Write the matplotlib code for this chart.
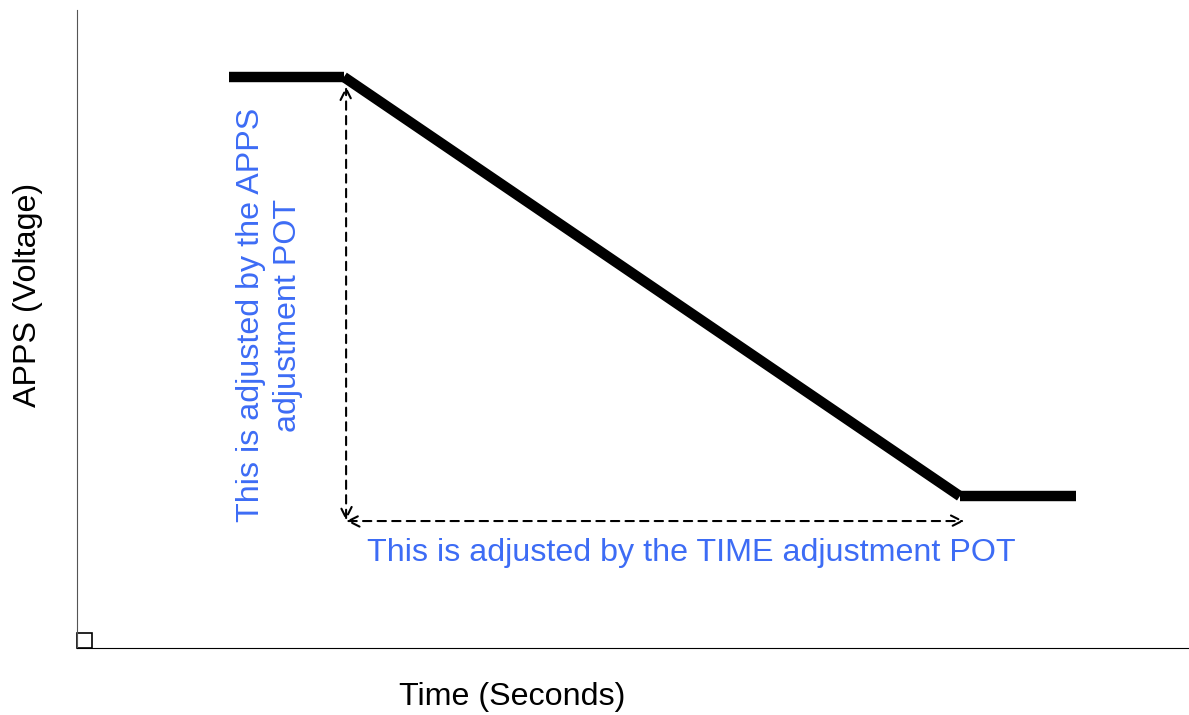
import matplotlib
matplotlib.use("Agg")
import matplotlib.pyplot as plt
from matplotlib.patches import Rectangle

plt.rcParams['font.family'] = ['Liberation Sans', 'DejaVu Sans']

# data (time units, voltage units)
times = [1.37, 2.4, 7.94, 8.98]
volts = [8.95, 8.95, 2.38, 2.38]
apps_arrow_x = 2.42
apps_arrow_y = [2.0, 8.8]
time_arrow_y = 1.99
time_arrow_x = [2.42, 7.98]

BLUE = '#3d6cf5'

fig = plt.figure(figsize=(11.89, 7.15), dpi=100)
ax = fig.add_axes([77/1189, 67/715, 1112/1189, 638/715])
ax.set_xlim(0, 10)
ax.set_ylim(0, 10)
ax.set_xticks([])
ax.set_yticks([])
for s in ['top', 'right']:
    ax.spines[s].set_visible(False)
ax.spines['left'].set_color('#555555')
ax.spines['bottom'].set_color('black')

# thick segments
for i in range(len(times) - 1):
    ax.plot(times[i:i+2], volts[i:i+2], color='black', lw=7.5, solid_capstyle='butt')

# dashed arrows
arrow_kw = dict(arrowstyle='<->', linestyle=(0, (4, 3)), lw=1.5, color='black',
                shrinkA=0, shrinkB=0, mutation_scale=20)
ax.annotate('', xy=(apps_arrow_x, apps_arrow_y[1]), xytext=(apps_arrow_x, apps_arrow_y[0]),
            arrowprops=arrow_kw)
ax.annotate('', xy=(time_arrow_x[1], time_arrow_y), xytext=(time_arrow_x[0], time_arrow_y),
            arrowprops=arrow_kw)

ax.text(1.73, 5.22, 'This is adjusted by the APPS\nadjustment POT', rotation=90,
        ha='center', va='center', color=BLUE, fontsize=23.2, linespacing=1.28)
ax.text(5.52, 1.49, 'This is adjusted by the TIME adjustment POT',
        ha='center', va='center', color=BLUE, fontsize=23.2)

# small corner square
ax.add_patch(Rectangle((0, 0), 15/1112, 15/638, transform=ax.transAxes,
                       fill=False, edgecolor='black', lw=1.2, clip_on=False))

fig.text(28/1189, 1 - 295/715, 'APPS (Voltage)', rotation=90, ha='center', va='center', fontsize=23.2)
fig.text(512/1189, 1 - 697/715, 'Time (Seconds)', ha='center', va='center', fontsize=23.2)

fig.savefig('out.png', dpi=100)
